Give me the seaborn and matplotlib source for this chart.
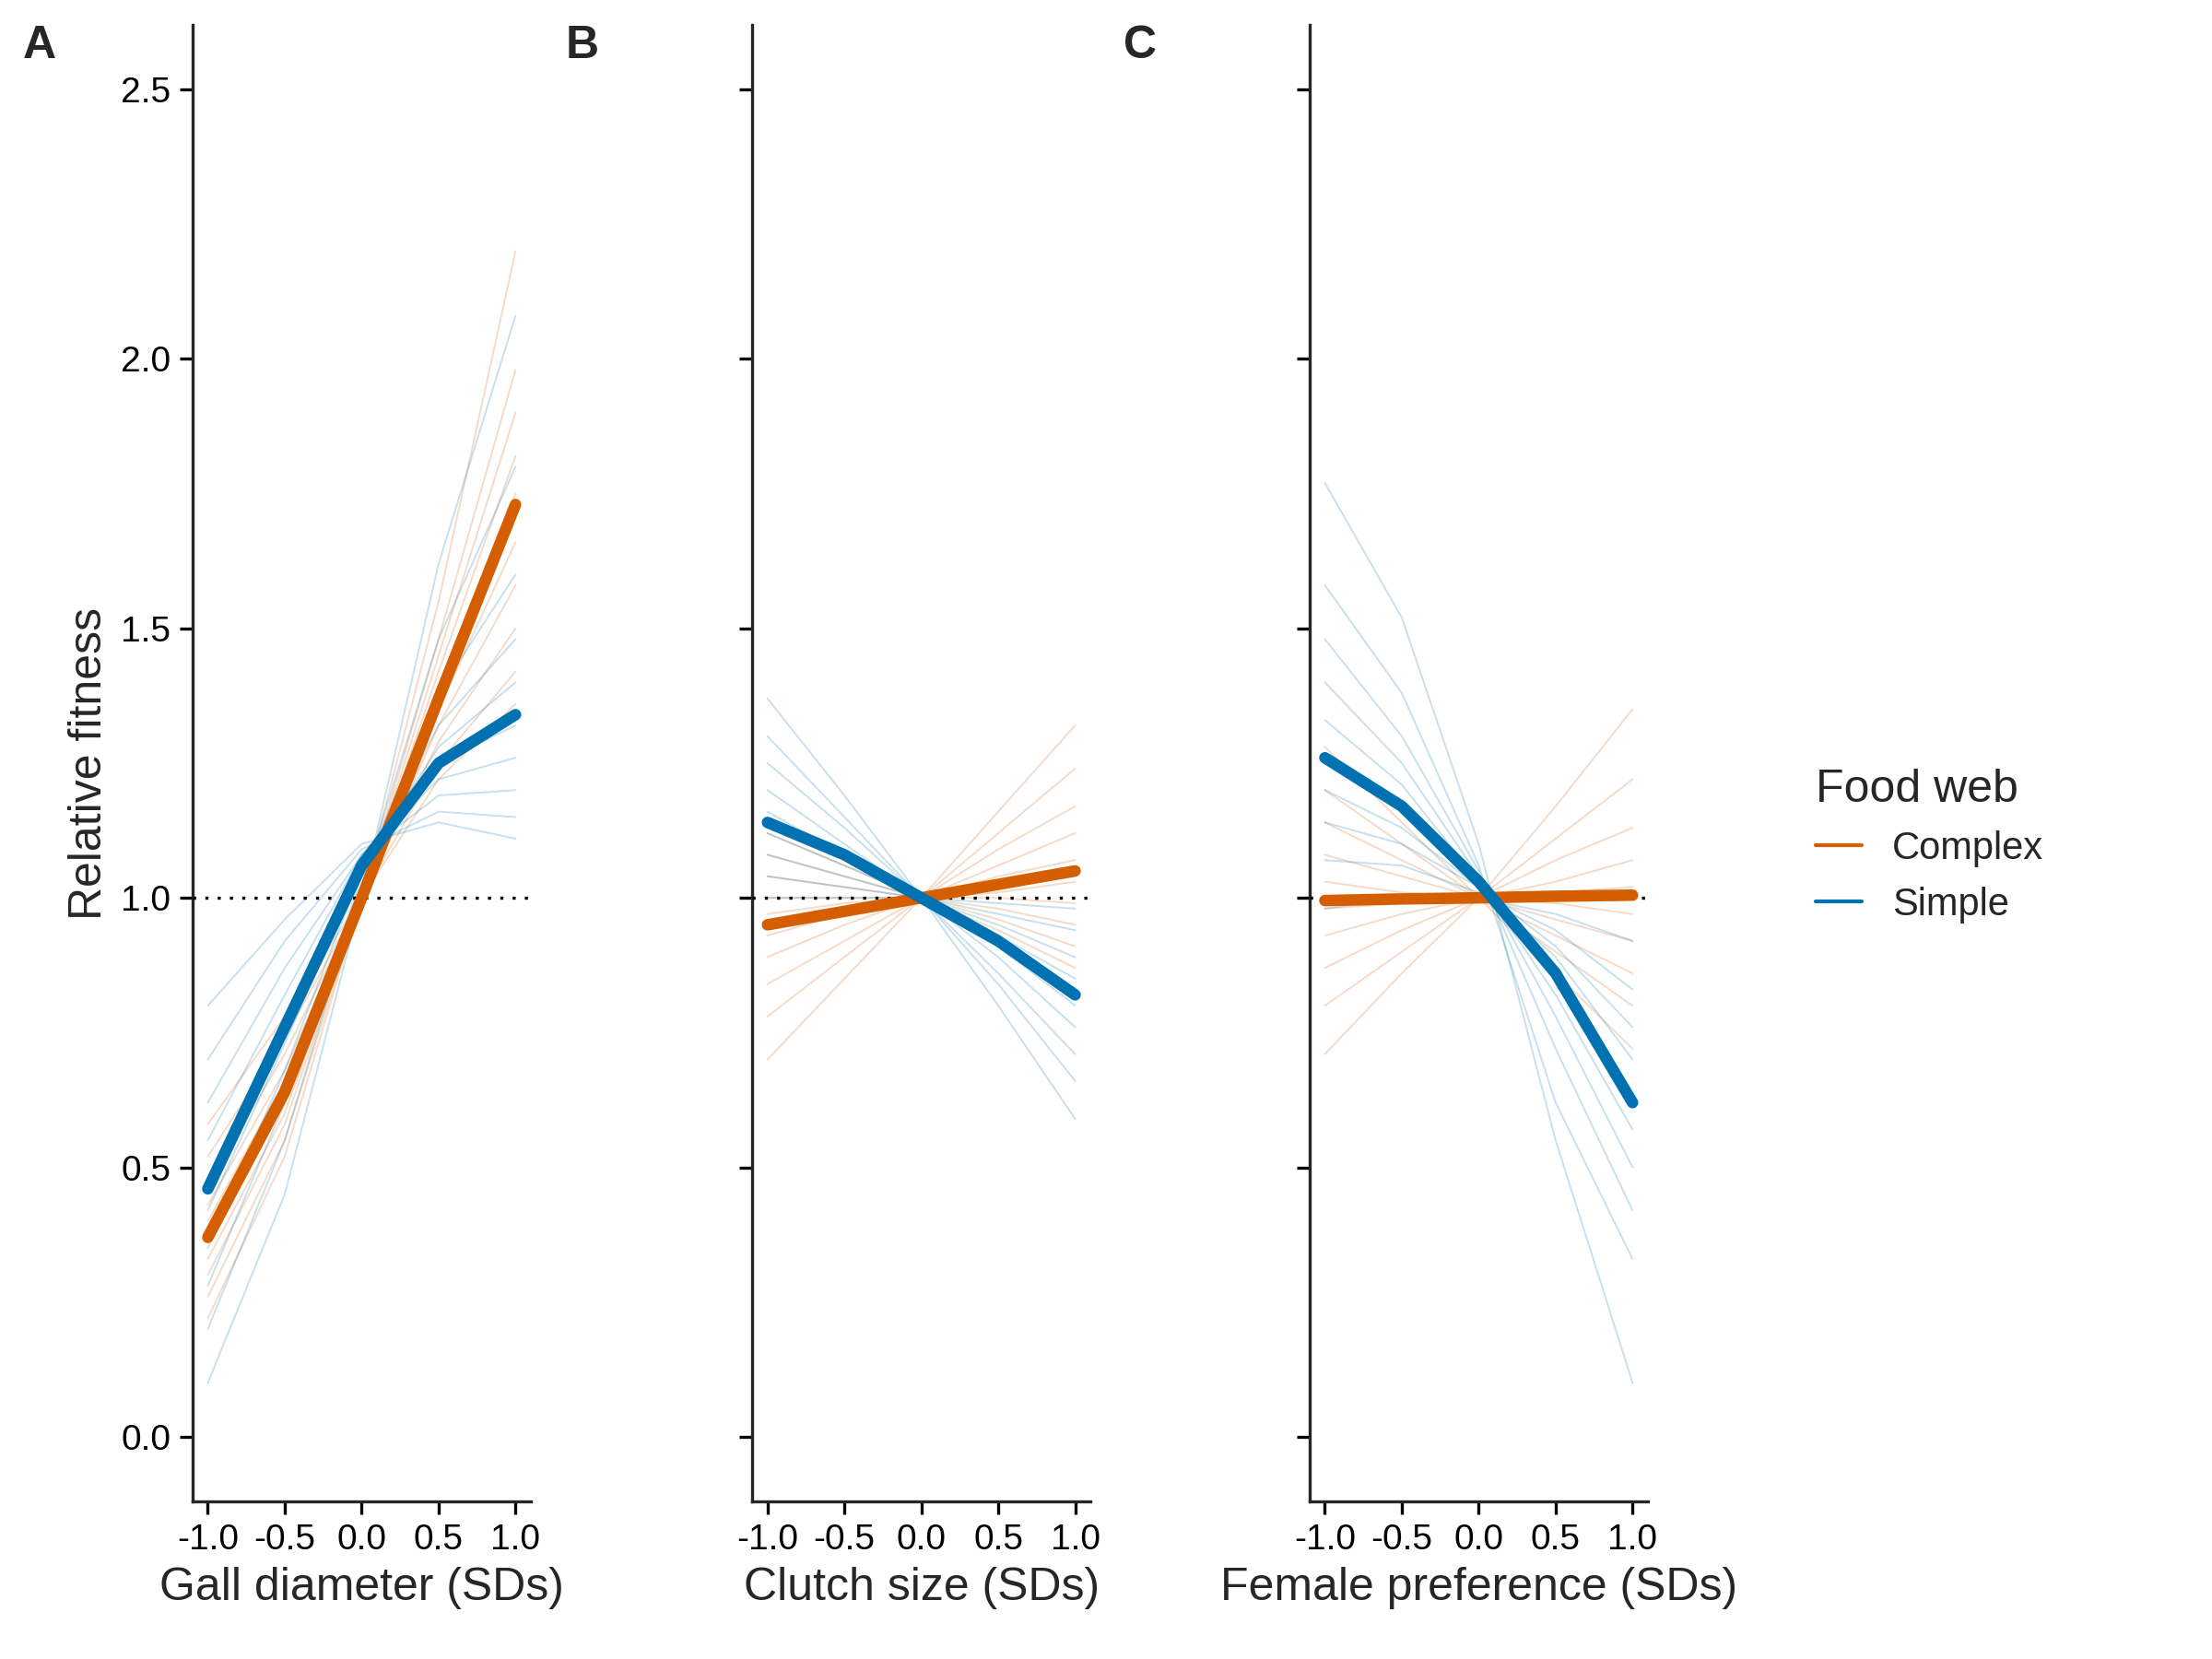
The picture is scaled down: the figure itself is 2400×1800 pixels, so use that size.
import numpy as np
import pandas as pd
import matplotlib
matplotlib.use("Agg")
import matplotlib.pyplot as plt
import seaborn as sns
from matplotlib.lines import Line2D

sns.set_style("ticks")
plt.rcParams['font.family'] = ['Liberation Sans', 'DejaVu Sans']

x_vals = [-1.0, -0.5, 0.0, 0.5, 1.0]
panels = ["A", "B", "C"]
x_labels = ["Gall diameter (SDs)", "Clutch size (SDs)", "Female preference (SDs)"]

# mean curves, values at x_vals
mean_complex = {
    "A": [0.37, 0.64, 1.00, 1.37, 1.73],
    "B": [0.95, 0.975, 1.00, 1.025, 1.05],
    "C": [0.995, 0.998, 1.00, 1.003, 1.005],
}
mean_simple = {
    "A": [0.46, 0.76, 1.06, 1.25, 1.34],
    "B": [1.14, 1.08, 1.00, 0.92, 0.82],
    "C": [1.26, 1.17, 1.03, 0.86, 0.62],
}

# a subset of posterior draws, values at x_vals (estimated)
draws_complex = {
    "A": [[0.22, 0.52, 1.00, 1.55, 2.20], [0.26, 0.55, 1.00, 1.48, 1.98],
          [0.30, 0.58, 1.00, 1.45, 1.90], [0.33, 0.60, 1.00, 1.42, 1.82],
          [0.36, 0.63, 1.00, 1.38, 1.75], [0.40, 0.66, 1.00, 1.35, 1.66],
          [0.43, 0.68, 1.00, 1.32, 1.58], [0.47, 0.71, 1.00, 1.29, 1.50],
          [0.52, 0.74, 1.00, 1.25, 1.42], [0.58, 0.78, 1.00, 1.22, 1.36]],
    "B": [[0.70, 0.85, 1.00, 1.16, 1.32], [0.78, 0.89, 1.00, 1.12, 1.24],
          [0.84, 0.92, 1.00, 1.09, 1.17], [0.89, 0.95, 1.00, 1.06, 1.12],
          [0.93, 0.97, 1.00, 1.04, 1.07], [0.97, 0.99, 1.00, 1.01, 1.03],
          [1.00, 1.00, 1.00, 1.00, 0.99], [1.04, 1.02, 1.00, 0.98, 0.95],
          [1.08, 1.04, 1.00, 0.96, 0.91], [1.12, 1.06, 1.00, 0.94, 0.87]],
    "C": [[0.71, 0.86, 1.00, 1.17, 1.35], [0.80, 0.90, 1.00, 1.11, 1.22],
          [0.87, 0.94, 1.00, 1.07, 1.13], [0.93, 0.97, 1.00, 1.03, 1.07],
          [0.98, 0.99, 1.00, 1.01, 1.02], [1.03, 1.01, 1.00, 0.99, 0.97],
          [1.08, 1.04, 1.00, 0.96, 0.92], [1.14, 1.07, 1.00, 0.93, 0.86],
          [1.20, 1.10, 1.00, 0.90, 0.80], [1.28, 1.14, 1.00, 0.86, 0.72]],
}
draws_simple = {
    "A": [[0.10, 0.45, 1.00, 1.62, 2.08], [0.20, 0.55, 1.02, 1.48, 1.80],
          [0.28, 0.62, 1.04, 1.38, 1.60], [0.35, 0.68, 1.05, 1.32, 1.48],
          [0.42, 0.73, 1.06, 1.28, 1.40], [0.48, 0.78, 1.07, 1.25, 1.32],
          [0.55, 0.82, 1.08, 1.22, 1.26], [0.62, 0.87, 1.08, 1.19, 1.20],
          [0.70, 0.92, 1.09, 1.16, 1.15], [0.80, 0.96, 1.10, 1.14, 1.11]],
    "B": [[1.37, 1.19, 1.00, 0.80, 0.59], [1.30, 1.15, 1.00, 0.84, 0.66],
          [1.25, 1.13, 1.00, 0.86, 0.71], [1.20, 1.10, 1.00, 0.89, 0.76],
          [1.16, 1.08, 1.00, 0.91, 0.80], [1.12, 1.06, 1.00, 0.93, 0.85],
          [1.08, 1.04, 1.00, 0.95, 0.89], [1.04, 1.02, 1.00, 0.97, 0.94],
          [1.00, 1.00, 1.00, 0.99, 0.98], [0.95, 0.97, 1.00, 1.02, 1.04]],
    "C": [[1.77, 1.52, 1.10, 0.55, 0.10], [1.58, 1.38, 1.06, 0.62, 0.33],
          [1.48, 1.30, 1.05, 0.72, 0.42], [1.40, 1.25, 1.04, 0.78, 0.50],
          [1.33, 1.21, 1.03, 0.82, 0.57], [1.26, 1.17, 1.03, 0.86, 0.63],
          [1.20, 1.13, 1.02, 0.89, 0.70], [1.14, 1.10, 1.02, 0.91, 0.76],
          [1.07, 1.06, 1.01, 0.94, 0.83], [0.98, 1.00, 1.00, 0.97, 0.92]],
}

pal = {"Complex": "#D55E00", "Simple": "#0072B2"}

fig = plt.figure(figsize=(12, 9), dpi=200)
lefts = [0.087, 0.340, 0.592]
axes = [fig.add_axes([l, 0.095, 0.153, 0.89]) for l in lefts]

for ax, p, xl in zip(axes, panels, x_labels):
    rows = []
    for grp, draws in (("Complex", draws_complex[p]), ("Simple", draws_simple[p])):
        for i, d in enumerate(draws):
            for xv, yv in zip(x_vals, d):
                rows.append((grp, f"{grp}{i}", xv, yv))
    df = pd.DataFrame(rows, columns=["web", "draw", "x", "y"])
    sns.lineplot(data=df, x="x", y="y", hue="web", units="draw", estimator=None,
                 palette=pal, lw=0.7, alpha=0.22, ax=ax, legend=False)
    ax.axhline(1.0, color="black", ls=(0, (1, 3)), lw=1.2, zorder=5)
    mrows = []
    for grp, m in (("Complex", mean_complex[p]), ("Simple", mean_simple[p])):
        for xv, yv in zip(x_vals, m):
            mrows.append((grp, xv, yv))
    mdf = pd.DataFrame(mrows, columns=["web", "x", "y"])
    sns.lineplot(data=mdf, x="x", y="y", hue="web", palette=pal, lw=4.5,
                 ax=ax, legend=False, zorder=6)
    ax.set_xlim(-1.1, 1.1)
    ax.set_ylim(-0.12, 2.62)
    ax.set_xticks(x_vals)
    ax.set_xticklabels(["-1.0", "-0.5", "0.0", "0.5", "1.0"], fontsize=14)
    ax.set_yticks([0.0, 0.5, 1.0, 1.5, 2.0, 2.5])
    ax.set_xlabel(xl, fontsize=18)
    ax.set_ylabel("")
    ax.tick_params(length=5, width=1.2, colors="black")
    for s in ("left", "bottom"):
        ax.spines[s].set_linewidth(1.2)
    sns.despine(ax=ax)
    ax.text(-0.55, 1.0, p, transform=ax.transAxes, fontsize=18,
            fontweight="bold", va="top")

axes[0].set_yticklabels(["0.0", "0.5", "1.0", "1.5", "2.0", "2.5"], fontsize=14)
axes[0].set_ylabel("Relative fitness", fontsize=18)
axes[0].texts[0].set_position((-0.5, 1.0))
for ax in axes[1:]:
    ax.set_yticklabels([])

handles = [Line2D([], [], color=pal[k], lw=1.5) for k in ("Complex", "Simple")]
fig.legend(handles, ["Complex", "Simple"], title="Food web", frameon=False,
           loc="center left", bbox_to_anchor=(0.805, 0.49), fontsize=15,
           title_fontsize=18, handlelength=1.2, alignment="left")

fig.savefig("out.png", dpi=200)
